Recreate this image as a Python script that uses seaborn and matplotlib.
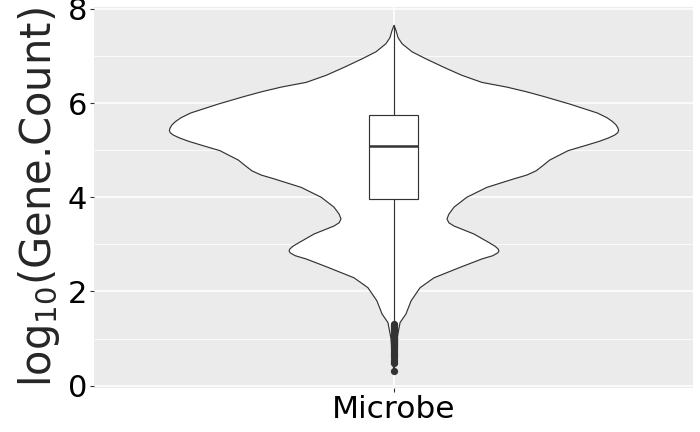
import numpy as np
import seaborn as sns
import matplotlib
matplotlib.use("Agg")
import matplotlib.pyplot as plt
from matplotlib.ticker import MultipleLocator

# category and values
category = ["Microbe"]

# violin outline: log10 gene count level and relative density (1 = widest)
violin_level = [7.66, 7.55, 7.40, 7.27, 7.10, 6.95, 6.77, 6.60, 6.45, 6.35,
                6.25, 6.15, 5.99, 5.80, 5.70, 5.62, 5.55, 5.48, 5.43, 5.38,
                5.33, 5.27, 5.20, 5.12, 5.00, 4.80, 4.68, 4.57, 4.48, 4.40,
                4.22, 4.01, 3.80, 3.65, 3.55, 3.47, 3.40, 3.23, 3.05, 2.97,
                2.91, 2.87, 2.83, 2.77, 2.70, 2.52, 2.30, 2.09, 1.81, 1.53,
                1.35, 1.00, 0.60, 0.30]
violin_density = [0.000, 0.009, 0.018, 0.036, 0.080, 0.142, 0.222, 0.302, 0.391, 0.502,
                  0.590, 0.667, 0.782, 0.905, 0.948, 0.972, 0.988, 0.997, 1.000, 0.996,
                  0.982, 0.955, 0.915, 0.860, 0.775, 0.693, 0.662, 0.632, 0.590, 0.533,
                  0.413, 0.324, 0.267, 0.244, 0.236, 0.244, 0.267, 0.356, 0.422, 0.450,
                  0.464, 0.467, 0.462, 0.440, 0.391, 0.293, 0.178, 0.116, 0.076, 0.053,
                  0.027, 0.013, 0.007, 0.000]

# box plot summary
q1, median, q3 = 3.97, 5.08, 5.74
whisker_low, whisker_high = 1.31, 7.66
outliers = [1.30, 1.28, 1.26, 1.24, 1.22, 1.20, 1.18, 1.16, 1.14, 1.12, 1.10,
            1.08, 1.06, 1.04, 1.02, 1.00, 0.98, 0.96, 0.94, 0.92, 0.90, 0.88,
            0.86, 0.84, 0.82, 0.79, 0.76, 0.72, 0.68, 0.64, 0.60, 0.55, 0.50,
            0.47, 0.30]

sns.set_theme(style="darkgrid", rc={
    "axes.facecolor": "#EBEBEB",
    "grid.color": "white",
    "figure.facecolor": "white",
})
plt.rcParams["font.family"] = ["DejaVu Sans"]

fig = plt.figure(figsize=(7, 4.32), dpi=100)
ax = fig.add_axes([0.1343, 0.1019, 0.8557, 0.8819])

half = 0.45 * np.array(violin_density)
ax.fill_betweenx(violin_level, -half, half, facecolor="white",
                 edgecolor="#333333", linewidth=0.85, zorder=2)

stats = [{"med": median, "q1": q1, "q3": q3, "whislo": whisker_low,
          "whishi": whisker_high, "fliers": outliers}]
ax.bxp(stats, positions=[0], widths=0.1, showcaps=False, manage_ticks=False,
       patch_artist=True,
       boxprops=dict(facecolor="white", edgecolor="#333333", linewidth=0.85),
       whiskerprops=dict(color="#333333", linewidth=0.85),
       medianprops=dict(color="#333333", linewidth=1.8),
       flierprops=dict(marker="o", markersize=4.2, markerfacecolor="#333333",
                       markeredgecolor="#333333", linestyle="none"),
       zorder=3)

ax.set_xlim(-0.6, 0.6)
ax.set_ylim(-0.05, 8.04)
ax.set_xticks([0])
ax.set_xticklabels(category)
ax.yaxis.set_major_locator(MultipleLocator(2))
ax.yaxis.set_minor_locator(MultipleLocator(1))
ax.grid(which="major", color="white", linewidth=1.1)
ax.grid(which="minor", axis="y", color="white", linewidth=0.55)
ax.set_axisbelow(True)
for s in ax.spines.values():
    s.set_visible(False)

ax.tick_params(axis="both", which="major", length=3, width=0.8, color="#333333",
               labelsize=22, labelcolor="black", pad=2, left=True, bottom=True)
ax.tick_params(axis="x", labelsize=22.5)
ax.tick_params(axis="y", which="minor", length=0)
ax.set_ylabel(r"log$_{10}$(Gene.Count)", fontsize=30, labelpad=4)
ax.set_xlabel("")

fig.savefig("out.png", dpi=100)
